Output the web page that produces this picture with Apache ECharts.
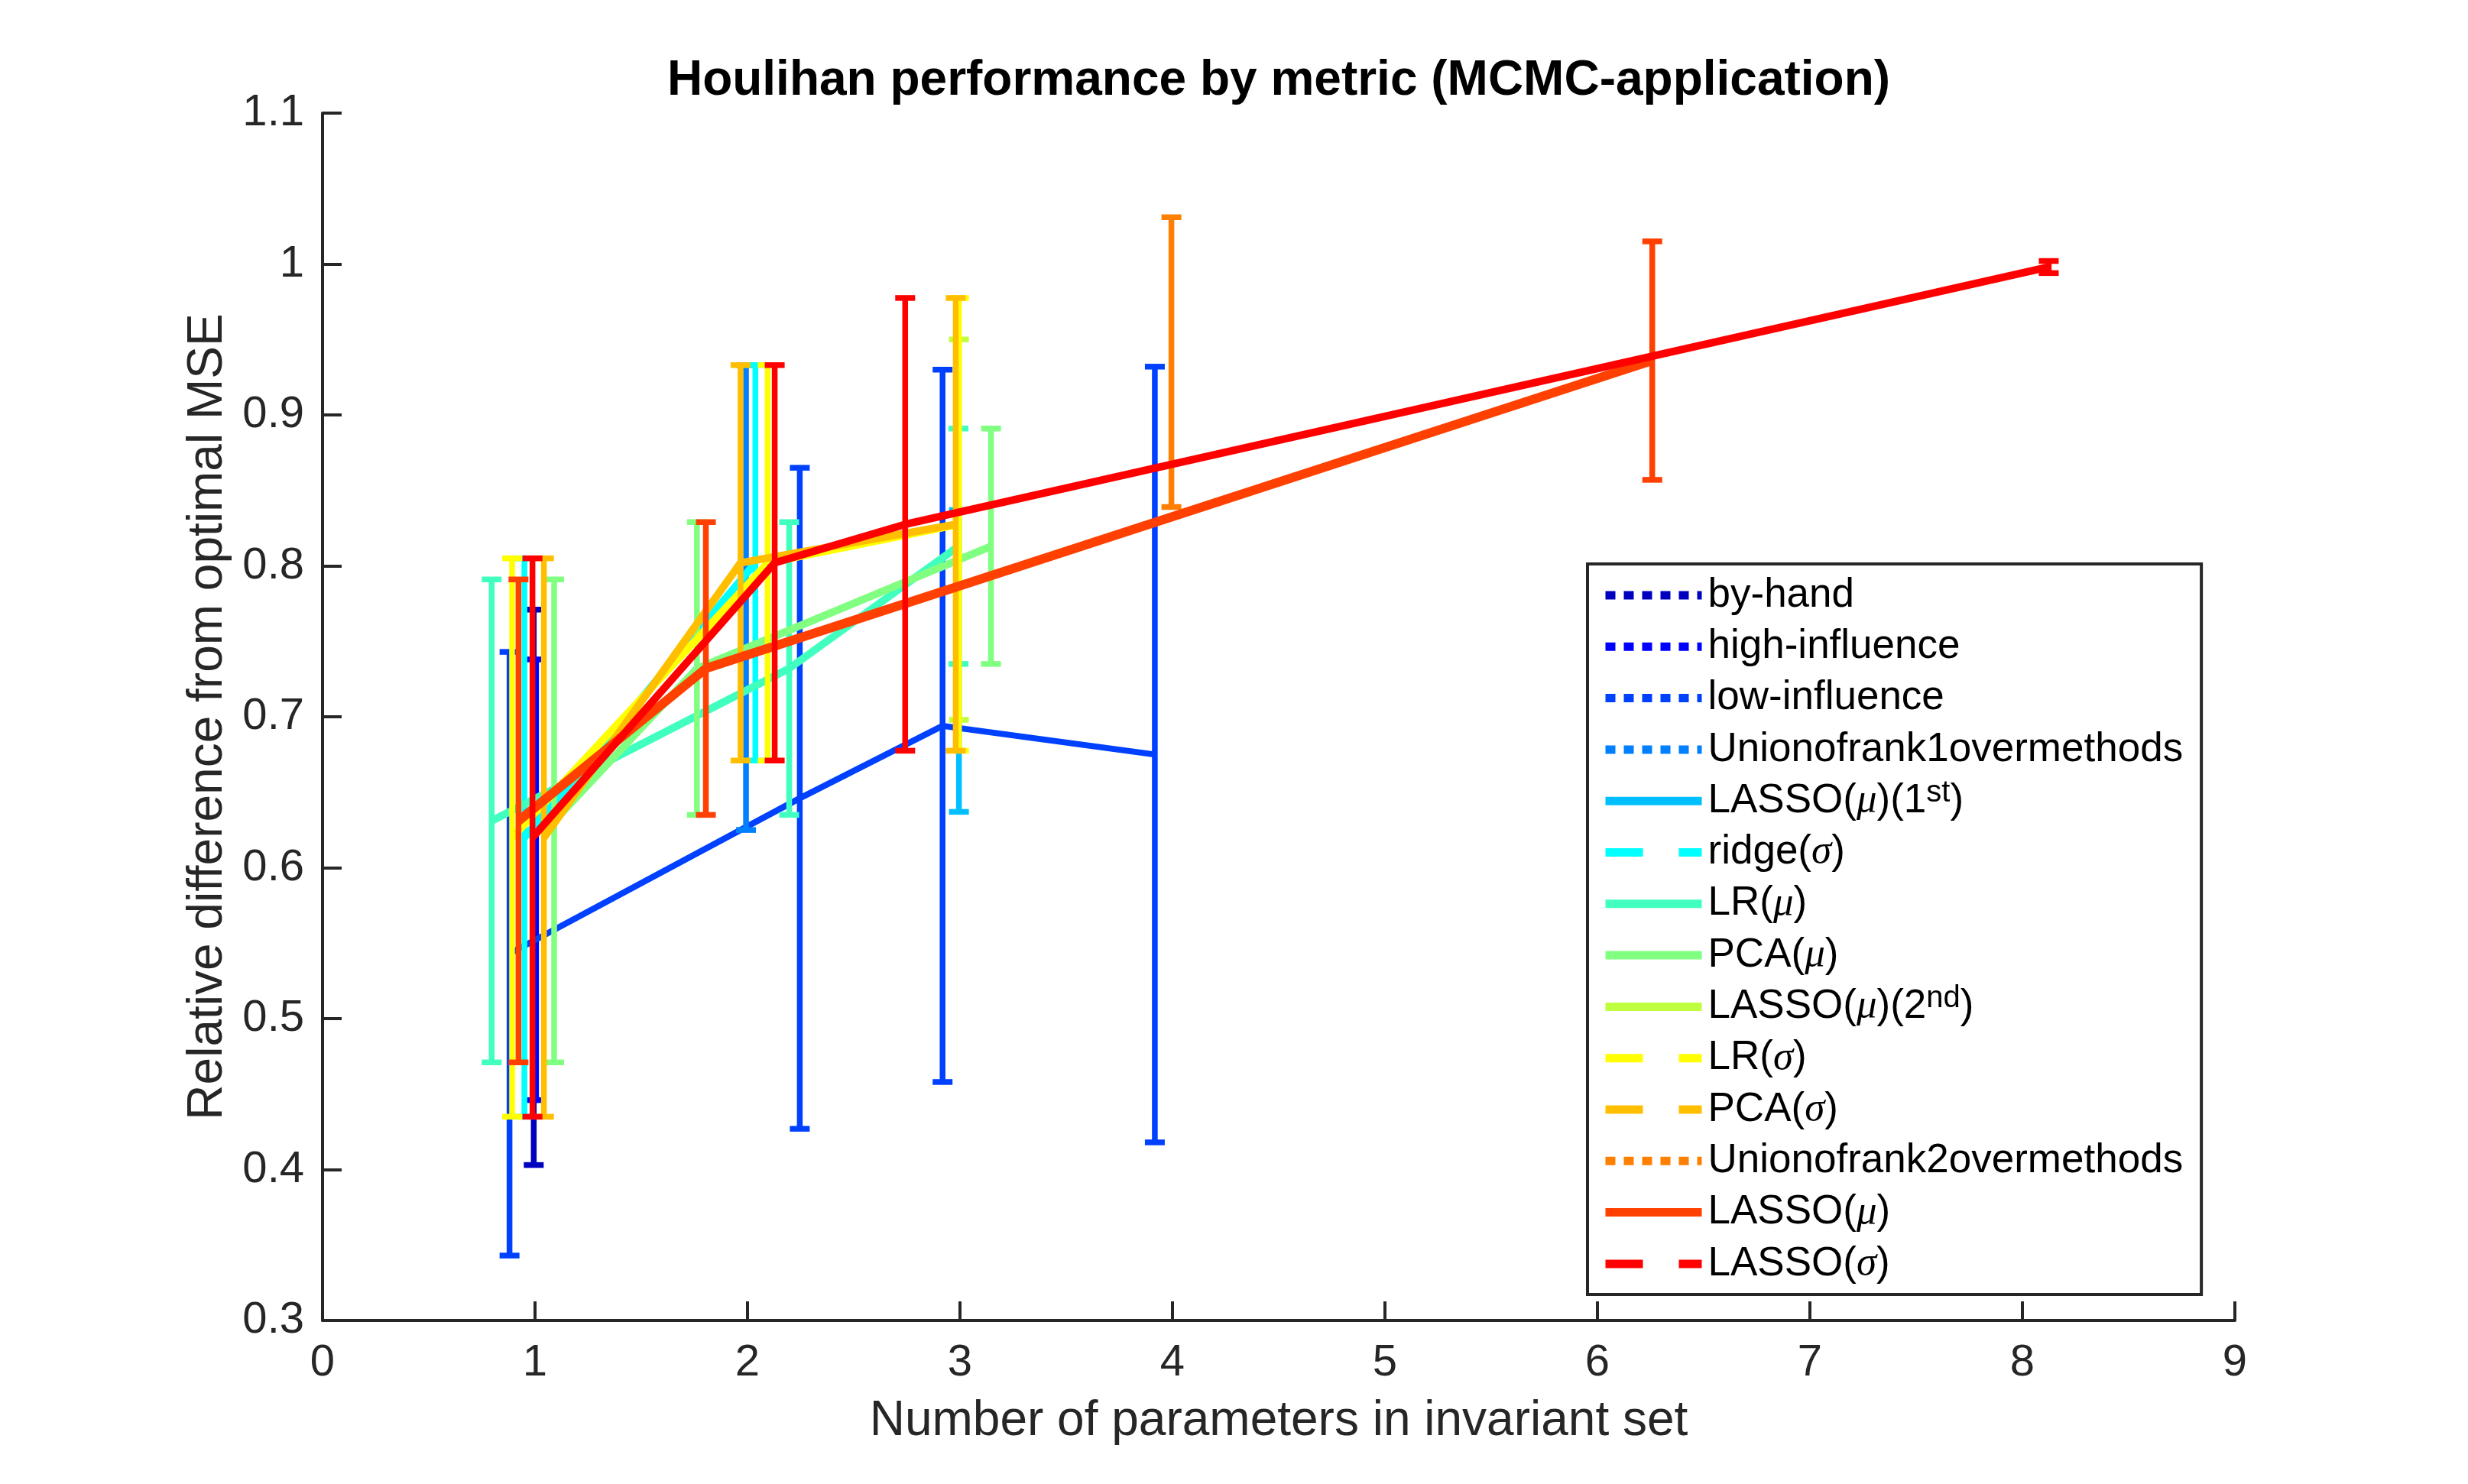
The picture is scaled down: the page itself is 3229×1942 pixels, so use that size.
<!DOCTYPE html>
<html>
<head>
<meta charset="utf-8">
<title>Houlihan performance by metric</title>
<script src="https://cdn.jsdelivr.net/npm/echarts@6.0.0/dist/echarts.min.js"></script>
<style>
  html, body { margin: 0; padding: 0; background: #fff; }
  #picture { width: 3229px; height: 1942px; }
</style>
</head>
<body>
<div id="picture"></div>
<script>
// legend entries, in drawing order
var names = ['by-hand', 'high-influence', 'low-influence', 'Unionofrank1overmethods',
    'LASSO(μ)(1st)', 'ridge(σ)', 'LR(μ)', 'PCA(μ)', 'LASSO(μ)(2nd)',
    'LR(σ)', 'PCA(σ)', 'Unionofrank2overmethods', 'LASSO(μ)', 'LASSO(σ)'];

// x position of every point (number of parameters, jittered)
var xPos = [
    [0.994],
    [1.005],
    [0.88, 2.246, 2.918, 3.917],
    [1.993],
    [2.995],
    [0.95, 2.037],
    [0.796, 2.196, 2.993],
    [1.09, 1.762, 3.146],
    [2.995],
    [0.892, 2.095, 2.995],
    [1.042, 1.967, 2.98],
    [3.995],
    [0.922, 1.804, 6.258],
    [0.988, 2.128, 2.742, 8.124]
];

// mean relative difference
var meanVals = [
    [0.587],
    [0.592],
    [0.543, 0.646, 0.694, 0.675],
    [0.779],
    [0.737],
    [0.62, 0.802],
    [0.631, 0.732, 0.813],
    [0.631, 0.732, 0.813],
    [0.824],
    [0.62, 0.802, 0.8275],
    [0.62, 0.802, 0.8275],
    [0.935],
    [0.631, 0.732, 0.936],
    [0.62, 0.802, 0.8275, 0.998]
];

// half length of the error bar
var errVals = [
    [0.184],
    [0.146],
    [0.2, 0.219, 0.236, 0.257],
    [0.154],
    [0.1],
    [0.185, 0.131],
    [0.16, 0.097, 0.078],
    [0.16, 0.097, 0.078],
    [0.126],
    [0.185, 0.131, 0.15],
    [0.185, 0.131, 0.15],
    [0.096],
    [0.16, 0.097, 0.079],
    [0.185, 0.131, 0.15, 0.004]
];

var xTicks = [0, 1, 2, 3, 4, 5, 6, 7, 8, 9];
var yTicks = [0.3, 0.4, 0.5, 0.6, 0.7, 0.8, 0.9, 1, 1.1];

// jet colormap, 14 colours
var colors = ['#0000bf', '#0000ff', '#0040ff', '#0080ff', '#00bfff', '#00ffff', '#40ffbf',
    '#80ff80', '#bfff40', '#ffff00', '#ffbf00', '#ff8000', '#ff4000', '#ff0000'];
var styles = [':', ':', ':', ':', '-', '--', '-', '-', '-', '--', '--', ':', '-', '--'];

var axisColor = '#262626';
var font = '"Liberation Sans", Helvetica, Arial, sans-serif';
var capHalf = 13;

function barRenderer(color) {
    return function (params, api) {
        var x = api.value(0);
        var p1 = api.coord([x, api.value(1)]);
        var p2 = api.coord([x, api.value(2)]);
        var st = { stroke: color, lineWidth: 7.5, fill: null };
        return {
            type: 'group',
            children: [
                { type: 'line', shape: { x1: p1[0], y1: p1[1], x2: p2[0], y2: p2[1] }, style: st },
                { type: 'line', shape: { x1: p1[0] - capHalf, y1: p1[1], x2: p1[0] + capHalf, y2: p1[1] }, style: st },
                { type: 'line', shape: { x1: p2[0] - capHalf, y1: p2[1], x2: p2[0] + capHalf, y2: p2[1] }, style: st }
            ]
        };
    };
}

// each errorbar = a line series + a custom series for its bars; z grows with
// the series index so later series are painted over earlier ones
var series = [];
var legendData = [];
for (var i = 0; i < names.length; i++) {
    var lineData = [], barData = [];
    for (var k = 0; k < xPos[i].length; k++) {
        lineData.push([xPos[i][k], meanVals[i][k]]);
        barData.push([xPos[i][k], meanVals[i][k] - errVals[i][k], meanVals[i][k] + errVals[i][k]]);
    }
    var w = styles[i] == ':' ? 8 : (names[i] == 'LASSO(μ)' ? 12 : 10);
    series.push({
        name: names[i],
        type: 'line',
        z: 10 + 2 * i,
        data: lineData,
        symbol: 'none',
        color: colors[i],
        lineStyle: { color: colors[i], width: w, type: 'solid', cap: 'butt', join: 'round' },
        animation: false
    });
    series.push({
        id: 'bars' + i,
        type: 'custom',
        z: 11 + 2 * i,
        data: barData,
        renderItem: barRenderer(colors[i]),
        encode: { x: 0, y: [1, 2] },
        animation: false,
        silent: true
    });
    var dash = styles[i] == '--' ? [49, 47] : (styles[i] == ':' ? [13, 11] : 'solid');
    legendData.push({ name: names[i], lineStyle: { type: dash } });
}

function legendLabel(name) {
    var s = name.replace('1st', '1{sup|st}').replace('2nd', '2{sup|nd}');
    s = s.replace(/μ/g, '{g|μ}').replace(/σ/g, '{g|σ}');
    return s;
}

var myChart = echarts.init(document.getElementById('picture'));
var option = {
    backgroundColor: '#ffffff',
    title: {
        text: 'Houlihan performance by metric (MCMC-application)',
        left: 1673,
        textAlign: 'center',
        top: 74,
        padding: 0,
        textStyle: { fontFamily: font, fontSize: 64, fontWeight: 'bold', color: '#000' }
    },
    grid: { left: 422, right: 305, top: 148, bottom: 214 },
    legend: {
        orient: 'vertical',
        z: 100,
        left: 2077,
        top: 738,
        padding: [11, 24, 10, 18],
        itemWidth: 126,
        itemHeight: 12,
        itemGap: 7.3,
        backgroundColor: '#ffffff',
        borderColor: axisColor,
        borderWidth: 4,
        borderRadius: 0,
        selectedMode: false,
        itemStyle: { opacity: 0 },
        lineStyle: { width: 11, cap: 'butt' },
        data: legendData,
        formatter: legendLabel,
        textStyle: {
            fontFamily: font, fontSize: 53, color: '#000', lineHeight: 60,
            padding: [0, 0, 0, 3],
            rich: {
                g: { fontFamily: '"Liberation Serif", "DejaVu Serif", serif', fontStyle: 'italic', fontSize: 53, lineHeight: 60 },
                sup: { fontFamily: font, fontSize: 40, lineHeight: 34, verticalAlign: 'top' }
            }
        }
    },
    xAxis: {
        type: 'value',
        min: xTicks[0],
        max: xTicks[xTicks.length - 1],
        interval: 1,
        name: 'Number of parameters in invariant set',
        nameLocation: 'middle',
        nameGap: 100,
        nameTextStyle: { fontFamily: font, fontSize: 64, color: axisColor },
        axisLine: { show: true, onZero: false, lineStyle: { color: axisColor, width: 4 } },
        axisTick: { show: true, inside: true, length: 25, lineStyle: { color: axisColor, width: 4 } },
        axisLabel: { fontFamily: font, fontSize: 58, color: axisColor, margin: 27 },
        splitLine: { show: false }
    },
    yAxis: {
        type: 'value',
        min: yTicks[0],
        max: yTicks[yTicks.length - 1],
        interval: 0.1,
        name: 'Relative difference from optimal MSE',
        nameLocation: 'middle',
        nameGap: 118,
        nameTextStyle: { fontFamily: font, fontSize: 64, color: axisColor },
        axisLine: { show: true, onZero: false, lineStyle: { color: axisColor, width: 4 } },
        axisTick: { show: true, inside: true, length: 25, lineStyle: { color: axisColor, width: 4 } },
        axisLabel: {
            fontFamily: font, fontSize: 58, color: axisColor, margin: 24,
            formatter: function (v) { return String(+v.toFixed(1)); }
        },
        splitLine: { show: false }
    },
    series: series
};
myChart.setOption(option);
</script>
</body>
</html>
